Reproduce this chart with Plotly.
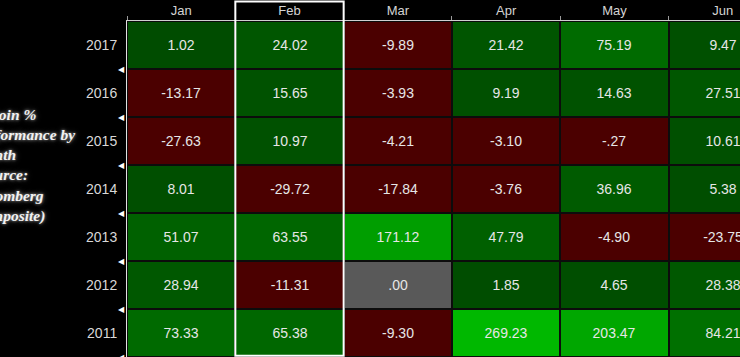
import plotly.graph_objects as go

months = ["Jan", "Feb", "Mar", "Apr", "May", "Jun"]
years = ["2017", "2016", "2015", "2014", "2013", "2012", "2011"]

jan = [1.02, -13.17, -27.63, 8.01, 51.07, 28.94, 73.33]
feb = [24.02, 15.65, 10.97, -29.72, 63.55, -11.31, 65.38]
mar = [-9.89, -3.93, -4.21, -17.84, 171.12, 0.00, -9.30]
apr = [21.42, 9.19, -3.10, -3.76, 47.79, 1.85, 269.23]
may = [75.19, 14.63, -0.27, 36.96, -4.90, 4.65, 203.47]
jun = [9.47, 27.51, 10.61, 5.38, -23.75, 28.38, 84.21]

cols = [jan, feb, mar, apr, may, jun]
z = [[c[r] for c in cols] for r in range(len(years))]


def fmt(v):
    s = f"{v:.2f}"
    if s.startswith("0."):
        s = s[1:]
    elif s.startswith("-0."):
        s = "-" + s[2:]
    return s


text = [[fmt(v) for v in row] for row in z]

ZMAX = 270.0
ZMIN = -270.0


def pos(v):
    return (v - ZMIN) / (ZMAX - ZMIN)


RED = "#4b0000"
GRAY = "#595959"
colorscale = [
    [0.0, RED],
    [pos(-0.005), RED],
    [pos(-0.004), GRAY],
    [pos(0.004), GRAY],
    [pos(0.005), "#004c00"],
    [pos(75), "#006b00"],
    [pos(171), "#009e00"],
    [1.0, "#00b800"],
]

fig = go.Figure()
fig.add_trace(go.Heatmap(
    z=z,
    x=list(range(len(months))),
    y=list(range(len(years))),
    text=text,
    texttemplate="%{text}",
    textfont=dict(family="Liberation Sans", size=14, color="#e6e6e6"),
    colorscale=colorscale,
    zmin=ZMIN, zmax=ZMAX,
    showscale=False,
    xgap=2, ygap=2,
    hoverinfo="skip",
))

# Row-boundary triangle markers on left axis
for i in range(len(years)):
    fig.add_annotation(
        xref="paper", x=0, xanchor="right", xshift=0,
        yref="y", y=i + 0.5, yanchor="middle",
        text="◀", showarrow=False,
        font=dict(family="DejaVu Sans", size=8, color="#ffffff"),
    )

# Left side title
fig.add_annotation(
    xref="paper", x=(-30 - 127) / 613, xanchor="left",
    yref="paper", y=0.57, yanchor="middle",
    align="left", showarrow=False,
    text="Bitcoin %<br>Performance by<br>Month<br>(Source:<br>Bloomberg<br>Composite)",
    font=dict(family="Liberation Serif", size=15.5, color="#f2f2f2",
              weight="bold", style="italic",
              shadow="0px 0px 3px #a0a0a0, 0px 0px 6px #555555"),
)

# Highlight box around Feb
fig.add_shape(
    type="rect", xref="x", x0=0.5, x1=1.5,
    yref="paper", y0=0.004, y1=1 + 19.5 / 336,
    line=dict(color="#ffffff", width=2), fillcolor="rgba(0,0,0,0)",
    layer="above",
)

fig.update_layout(
    width=740, height=357,
    margin=dict(l=127, r=0, t=21, b=0),
    paper_bgcolor="#000000",
    plot_bgcolor="#0c0c0c",
    showlegend=False,
    xaxis=dict(
        side="top",
        range=[-0.5, -0.5 + 613 / 108.33],
        tickvals=list(range(len(months))),
        ticktext=months,
        ticks="",
        tickfont=dict(family="Liberation Sans", size=13, color="#d4d4d4"),
        showgrid=False, zeroline=False,
        showline=True, linecolor="#d0d0d0", linewidth=1,
        minor=dict(ticks="outside", tick0=0.5, dtick=1, ticklen=4,
                   tickcolor="#9a9a9a", tickwidth=1, showgrid=False),
        fixedrange=True,
    ),
    yaxis=dict(
        range=[len(years) - 0.5, -0.5],
        tickvals=list(range(len(years))),
        ticktext=years,
        ticks="",
        ticklabelstandoff=6,
        tickfont=dict(family="Liberation Sans", size=14, color="#d8d8d8"),
        showgrid=False, zeroline=False,
        showline=True, linecolor="#e0e0e0", linewidth=1,
        fixedrange=True,
    ),
)

fig.write_html("out.html")
